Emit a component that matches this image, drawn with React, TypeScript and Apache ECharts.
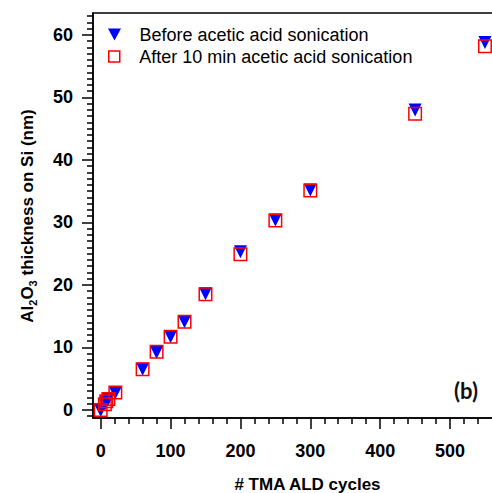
import React, { useEffect, useRef } from 'react';
import * as echarts from 'echarts';

const cycles = [0, 6, 8, 11, 21, 60, 80, 100, 120, 150, 200, 250, 300, 450, 550];
const beforeNm = [-0.1, 0.9, 1.3, 1.7, 2.7, 6.5, 9.2, 11.7, 14.1, 18.6, 25.3, 30.4, 35.2, 48.0, 58.8];
const afterNm = [0.0, 0.9, 1.4, 1.75, 2.8, 6.5, 9.3, 11.7, 14.1, 18.5, 24.9, 30.3, 35.1, 47.4, 58.2];

const seriesNames = ['Before acetic acid sonication', 'After 10 min acetic acid sonication'];
const xMajorTicks = [0, 100, 200, 300, 400, 500];
const xMinorTicks = [20, 40, 60, 80, 120, 140, 160, 180, 220, 240, 260, 280, 320, 340, 360, 380, 420, 440, 460, 480, 520, 540];
const yMajorTicks = [0, 10, 20, 30, 40, 50, 60];
const yMinorTicks: number[] = [];
for (let v = -1; v <= 63; v++) if (v % 10 !== 0) yMinorTicks.push(v);

const X_MIN = -11;
const X_MAX = 603;
const Y_MIN = -1.3;
const Y_MAX = 63.5;

const FONT = '"Liberation Sans", Arial, sans-serif';

export default function App() {
  const ref = useRef<HTMLDivElement>(null);
  useEffect(() => {
    if (!ref.current) return;
    const chart = echarts.init(ref.current, undefined, { renderer: 'svg' });
    const lineStyle = { color: '#000', width: 1.5 };
    const baseX = {
      type: 'value' as const,
      min: X_MIN,
      max: X_MAX,
      position: 'bottom' as const,
      splitLine: { show: false },
    };
    const baseY = {
      type: 'value' as const,
      min: Y_MIN,
      max: Y_MAX,
      position: 'left' as const,
      splitLine: { show: false },
    };
    chart.setOption({
      animation: false,
      backgroundColor: '#fff',
      grid: {
        left: 93,
        top: 13,
        right: -30,
        bottom: 75,
        show: true,
        borderColor: '#000',
        borderWidth: 1.5,
        containLabel: false,
        outerBoundsMode: 'none',
      },
      xAxis: [
        {
          ...baseX,
          name: '# TMA ALD cycles',
          nameLocation: 'middle',
          nameGap: 58,
          nameTextStyle: { fontFamily: FONT, fontWeight: 'bold', fontSize: 17, color: '#000' },
          axisLine: { show: true, onZero: false, lineStyle },
          axisTick: { show: true, length: 11, customValues: xMajorTicks, lineStyle },
          axisLabel: {
            customValues: xMajorTicks,
            margin: 24,
            fontFamily: FONT,
            fontWeight: 'bold',
            fontSize: 18,
            color: '#000',
          },
        },
        {
          ...baseX,
          axisLine: { show: false, onZero: false },
          axisTick: { show: true, length: 6, customValues: xMinorTicks, lineStyle },
          axisLabel: { show: false },
        },
      ],
      yAxis: [
        {
          ...baseY,
          axisLine: { show: true, onZero: false, lineStyle },
          axisTick: { show: true, length: 11, customValues: yMajorTicks, lineStyle },
          axisLabel: {
            customValues: yMajorTicks,
            margin: 20,
            fontFamily: FONT,
            fontWeight: 'bold',
            fontSize: 18,
            color: '#000',
          },
        },
        {
          ...baseY,
          axisLine: { show: false, onZero: false },
          axisTick: { show: true, length: 6, customValues: yMinorTicks, lineStyle },
          axisLabel: { show: false },
        },
      ],
      legend: [
        {
          data: [
            {
              name: seriesNames[0],
              icon: 'path://M0,0L13,0L6.5,12Z',
              itemStyle: { color: '#0000ff' },
            },
          ],
          left: 108,
          top: 25.5,
          padding: 0,
          itemWidth: 40,
          itemHeight: 12,
          selectedMode: false,
          textStyle: { fontFamily: FONT, fontSize: 18, color: '#000' },
        },
        {
          data: [
            {
              name: seriesNames[1],
              icon: 'path://M0,0L10,0L10,10L0,10Z',
              itemStyle: { color: 'rgba(0,0,0,0)', borderColor: '#ff0000', borderWidth: 1.5 },
            },
          ],
          left: 108,
          top: 47.5,
          padding: 0,
          itemWidth: 40,
          itemHeight: 11,
          selectedMode: false,
          textStyle: { fontFamily: FONT, fontSize: 18, color: '#000' },
        },
      ],
      series: [
        {
          type: 'scatter',
          name: seriesNames[0],
          xAxisIndex: 0,
          yAxisIndex: 0,
          data: cycles.map((c, i) => [c, beforeNm[i]]),
          symbol: 'triangle',
          symbolRotate: 180,
          symbolSize: 13,
          itemStyle: { color: '#0000ff', opacity: 1 },
          z: 2,
        },
        {
          type: 'scatter',
          name: seriesNames[1],
          xAxisIndex: 0,
          yAxisIndex: 0,
          data: cycles.map((c, i) => [c, afterNm[i]]),
          symbol: 'rect',
          symbolSize: 12.5,
          itemStyle: { color: 'rgba(0,0,0,0)', borderColor: '#ff0000', borderWidth: 1.5, opacity: 1 },
          z: 3,
        },
      ],
      graphic: [
        {
          type: 'text',
          x: 27,
          y: 216,
          rotation: Math.PI / 2,
          style: {
            text: '{m|Al}{s|2}{m|O}{s|3}{m| thickness on Si (nm)}',
            align: 'center',
            verticalAlign: 'middle',
            fill: '#000',
            rich: {
              m: { fontFamily: FONT, fontWeight: 'bold', fontSize: 17, lineHeight: 22, fill: '#000' },
              s: { fontFamily: FONT, fontWeight: 'bold', fontSize: 11, lineHeight: 11, verticalAlign: 'bottom', fill: '#000' },
            },
          },
        },
        {
          type: 'text',
          x: 466,
          y: 390,
          style: {
            text: '(b)',
            align: 'center',
            verticalAlign: 'middle',
            fontFamily: 'Lato, "Open Sans", sans-serif',
            fontWeight: 'bold',
            fontSize: 22,
            fill: '#111',
          },
        },
      ],
    });
    return () => chart.dispose();
  }, []);
  return (
    <div
      ref={ref}
      style={{ position: 'fixed', left: 0, top: 0, width: 492, height: 493 }}
    />
  );
}
